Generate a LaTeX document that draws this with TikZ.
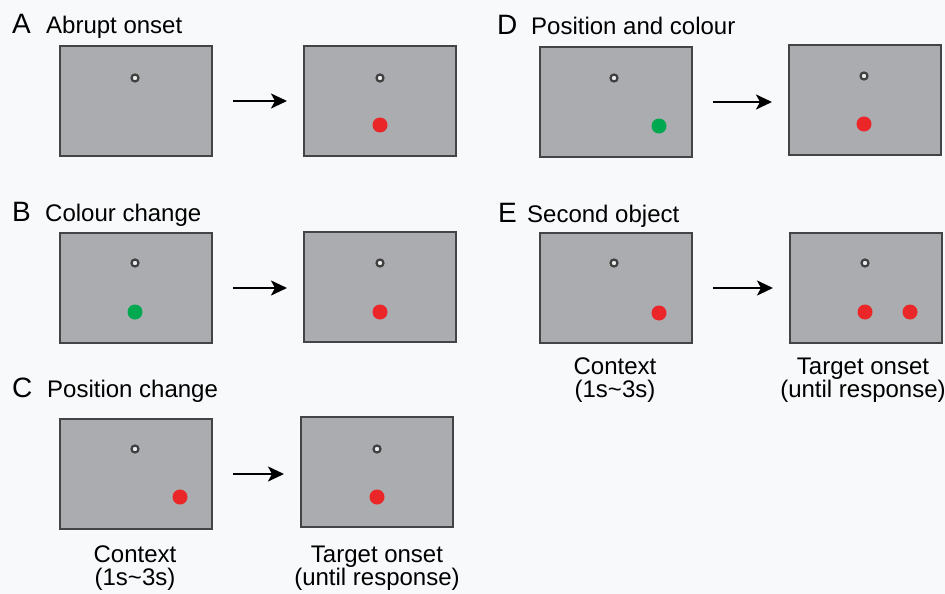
\documentclass[tikz,border=0pt]{standalone}
\usepackage{fontspec}
\setmainfont{Liberation Sans}
\usetikzlibrary{arrows.meta}
\definecolor{paper}{RGB}{248,249,250}
\definecolor{screen-bg}{RGB}{170,172,175}
\definecolor{screen-edge}{RGB}{68,68,70}
\definecolor{target-red}{RGB}{234,38,40}
\definecolor{cue-green}{RGB}{0,168,80}
\tikzstyle{a}=[anchor=north west]
\tikzstyle{screen}=[a,draw=screen-edge,fill=screen-bg,line width=2pt,rectangle,minimum width=152pt,minimum height=110pt,inner sep=0pt]
\tikzstyle{fix}=[circle,draw=black!75,fill=gray!15,line width=2.2pt,minimum size=7pt,inner sep=0pt]
\tikzstyle{dot}=[circle,minimum size=15pt,inner sep=0pt]
\tikzstyle{reddot}=[dot,fill=target-red]
\tikzstyle{greendot}=[dot,fill=cue-green]
\tikzstyle{letter}=[anchor=base west,inner sep=0pt,font=\fontsize{28}{30}\selectfont]
\tikzstyle{title}=[anchor=base west,inner sep=0pt,font=\fontsize{24}{26}\selectfont]
\tikzstyle{caption}=[anchor=north,inner sep=0pt,align=center,font=\fontsize{24}{23}\selectfont]
\tikzstyle{arrow}=[draw,line width=2.2pt,-{Stealth[length=16pt,width=15pt,inset=4pt]},shorten <=20pt,shorten >=16pt]

\begin{document}
\begin{tikzpicture}[x=1pt,y=-1pt]
    \clip (0,0) rectangle (945,594);
    \fill[paper] (0,0) rectangle (945,594);
%    \draw[step=50,gray,thin] (0,0) grid (945,594);

    % A
    \node[letter] at (12,34) (letA) {A};
    \node[title] at (46,34) (titA) {Abrupt onset};
    \node[screen] at (59,45) (aleft) {};
    \node[screen] at (303,45) (aright) {};
    \node[fix] at (135,78) (afixl) {};
    \node[fix] at (380,78) (afixr) {};
    \node[reddot] at (380,125) (atarget) {};
    \draw[arrow] (aleft) -- (aleft -| aright.west);

    % B
    \node[letter] at (12,221) (letB) {B};
    \node[title] at (45,221) (titB) {Colour change};
    \node[screen] at (59,232) (bleft) {};
    \node[screen] at (303,231) (bright) {};
    \node[fix] at (135,263) (bfixl) {};
    \node[fix] at (380,263) (bfixr) {};
    \node[greendot] at (135,312) (bcontext) {};
    \node[reddot] at (380,312) (btarget) {};
    \draw[arrow] (bleft) -- (bleft -| bright.west);

    % C
    \node[letter] at (12,397) (letC) {C};
    \node[title] at (47,397) (titC) {Position change};
    \node[screen] at (59,418) (cleft) {};
    \node[screen] at (300,416) (cright) {};
    \node[fix] at (135,449) (cfixl) {};
    \node[fix] at (377,449) (cfixr) {};
    \node[reddot] at (180,497) (ccontext) {};
    \node[reddot] at (377,497) (ctarget) {};
    \draw[arrow] (cleft) -- (cleft -| cright.west);
    \node[caption] at (135,545.5) (ccapl) {Context\\(1s\textasciitilde 3s)};
    \node[caption] at (377,545.5) (ccapr) {Target onset\\(until response)};

    % D
    \node[letter] at (497,35) (letD) {D};
    \node[title] at (531,35) (titD) {Position and colour};
    \node[screen] at (539,46) (dleft) {};
    \node[screen] at (788,44) (dright) {};
    \node[fix] at (614,78) (dfixl) {};
    \node[fix] at (864,76) (dfixr) {};
    \node[greendot] at (659,126) (dcontext) {};
    \node[reddot] at (864,124) (dtarget) {};
    \draw[arrow] (dleft) -- (dleft -| dright.west);

    % E
    \node[letter] at (498,222) (letE) {E};
    \node[title] at (527,222) (titE) {Second object};
    \node[screen] at (539,232) (eleft) {};
    \node[screen] at (789,232) (eright) {};
    \node[fix] at (614,263) (efixl) {};
    \node[fix] at (865,263) (efixr) {};
    \node[reddot] at (659,313) (econtext) {};
    \node[reddot] at (865,312) (etarget) {};
    \node[reddot] at (910,312) (esecond) {};
    \draw[arrow] (eleft) -- (eleft -| eright.west);
    \node[caption] at (615,357.5) (ecapl) {Context\\(1s\textasciitilde 3s)};
    \node[caption] at (863,357.5) (ecapr) {Target onset\\(until response)};
\end{tikzpicture}
\end{document}
